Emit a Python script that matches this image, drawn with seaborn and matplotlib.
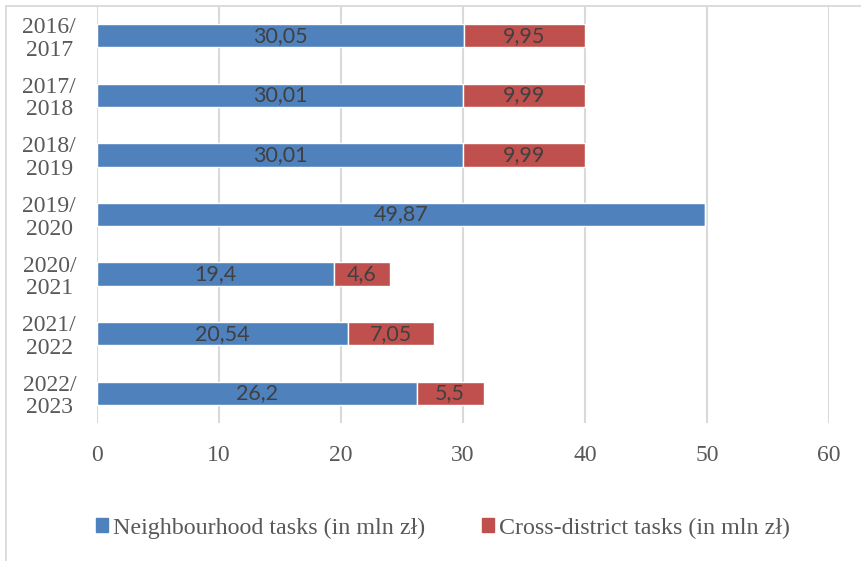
import matplotlib
matplotlib.use("Agg")
import matplotlib.pyplot as plt
import matplotlib.patches as mpatches
import seaborn as sns
import pandas as pd

# School years and budget split (in mln zł)
years = ["2016/\n2017", "2017/\n2018", "2018/\n2019", "2019/\n2020",
         "2020/\n2021", "2021/\n2022", "2022/\n2023"]
neighbourhood = [30.05, 30.01, 30.01, 49.87, 19.4, 20.54, 26.2]
cross_district = [9.95, 9.99, 9.99, 0.0, 4.6, 7.05, 5.5]
x_ticks = [0, 10, 20, 30, 40, 50, 60]

series_names = ["Neighbourhood tasks (in mln zł)", "Cross-district tasks (in mln zł)"]
blue = "#4F81BD"
red = "#C0504D"

df = pd.DataFrame({"year": years, "neigh": neighbourhood, "cross": cross_district})

sns.set_style("white")
plt.rcParams["font.family"] = ["Liberation Serif", "DejaVu Serif"]

fig = plt.figure(figsize=(8.61, 5.61), dpi=100)
ax = fig.add_axes([97 / 861, 1 - 423 / 561, (829 - 97) / 861, (423 - 6) / 561])

bar_h = 0.39
sns.barplot(data=df, x="neigh", y="year", orient="h", color=blue, saturation=1,
            width=bar_h, ax=ax, zorder=3)
sns.barplot(data=df, x="cross", y="year", orient="h", color=red, saturation=1,
            width=bar_h, ax=ax, left=df["neigh"].values, zorder=3)

def fmt(v):
    return f"{v:g}".replace(".", ",") if v > 0 else ""

label_font = dict(family=["Lato", "DejaVu Sans"], size=15.5, color="#404040")
for cont, vals in zip(ax.containers, [neighbourhood, cross_district]):
    ax.bar_label(cont, labels=[fmt(v) for v in vals], label_type="center",
                 **label_font)

ax.set_xlim(0, 60)
ax.set_ylim(6.5, -0.5)
ax.set_xticks(x_ticks)
ax.set_xticklabels([str(t) for t in x_ticks])
ax.set_xlabel("")
ax.set_ylabel("")
ax.grid(axis="x", color="#d9d9d9", linewidth=1.5, zorder=0)
ax.grid(axis="y", visible=False)
for s in ax.spines.values():
    s.set_visible(False)
ax.tick_params(axis="both", length=0, labelsize=17, colors="#595959")
ax.tick_params(axis="x", pad=16)
ax.tick_params(axis="y", pad=15)
for lab in ax.get_yticklabels():
    lab.set_multialignment("center")
    lab.set_linespacing(1.1)

handles = [mpatches.Patch(color=blue, label=series_names[0]),
           mpatches.Patch(color=red, label=series_names[1])]
fig.legend(handles=handles, loc="center", bbox_to_anchor=(443 / 861, 1 - 528 / 561),
           ncol=2, frameon=False, handlelength=0.48, handleheight=0.5,
           handletextpad=0.2, columnspacing=2.4,
           prop=dict(family=["Liberation Serif", "DejaVu Serif"], size=17.3),
           labelcolor="#595959")

# outer chart border
fig.patches.append(mpatches.Rectangle((5.5 / 861, -0.1), 1.2, 1 - 5.5 / 561 + 0.1,
                                      transform=fig.transFigure, fill=False,
                                      edgecolor="#d9d9d9", linewidth=1.3))

fig.savefig("out.png", dpi=100)
